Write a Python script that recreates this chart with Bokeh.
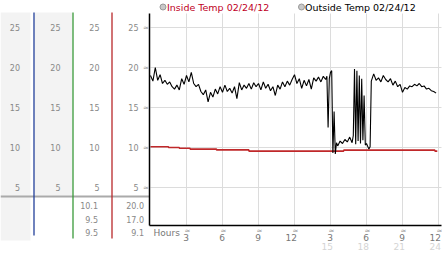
from bokeh.plotting import figure
from bokeh.models import Range1d
from bokeh.core.properties import value
from bokeh.embed import file_html
from bokeh.resources import INLINE

# ---------------- data ----------------
hours_out = [
    0.0, 0.2, 0.4, 0.6, 0.8, 1.0, 1.2, 1.4, 1.6, 1.8, 2.0, 2.2, 2.4, 2.6, 2.8,
    3.0, 3.2, 3.4, 3.6, 3.8, 4.0, 4.2, 4.4, 4.6, 4.8, 5.0, 5.2, 5.4, 5.6, 5.8,
    6.0, 6.2, 6.4, 6.6, 6.8, 7.0, 7.2, 7.4, 7.6, 7.8, 8.0, 8.2, 8.4, 8.6, 8.8,
    9.0, 9.2, 9.4, 9.6, 9.8, 10.0, 10.2, 10.4, 10.6, 10.8, 11.0, 11.2, 11.4,
    11.6, 11.8, 12.0, 12.2, 12.4, 12.6, 12.8, 13.0, 13.2, 13.4, 13.6, 13.8,
    14.0, 14.2, 14.4, 14.6,
    14.7, 14.8, 14.9, 15.0, 15.1, 15.2, 15.3, 15.4, 15.5, 15.6, 15.8, 16.0,
    16.2, 16.4, 16.6, 16.8, 16.9, 17.0, 17.1, 17.2, 17.3, 17.4, 17.5, 17.6,
    17.7, 17.8, 17.9, 18.0, 18.2, 18.3, 18.4,
    18.6, 18.8, 19.0, 19.2, 19.4, 19.6, 19.8, 20.0, 20.2, 20.4, 20.6, 20.8,
    21.0, 21.2, 21.4, 21.6, 21.8, 22.0, 22.2, 22.4, 22.6, 22.8, 23.0, 23.2,
    23.4, 23.6, 23.8,
]
outside = [
    19.0, 18.3, 20.0, 18.4, 19.1, 18.0, 18.4, 17.9, 18.2, 17.6, 17.3, 17.8, 17.2, 18.6, 17.9,
    19.0, 18.2, 19.4, 18.0, 17.6, 17.9, 17.0, 16.6, 17.2, 15.7, 16.9, 16.3, 17.3, 16.7, 17.6,
    16.9, 17.8, 17.0, 17.4, 16.8, 17.6, 16.1, 18.1, 17.2, 17.8, 17.4, 18.0, 17.3, 18.1, 17.6,
    18.0, 17.2, 18.2, 17.4, 17.9, 17.1, 17.6, 16.5, 17.8, 17.3, 18.2, 17.6, 18.3,
    17.8, 18.5, 19.1, 18.0, 18.6, 17.4, 18.4, 17.7, 18.5, 17.3, 18.7, 18.3,
    18.8, 18.2, 18.9, 18.5,
    18.9, 12.5, 18.6, 19.4, 19.6, 9.3, 14.5, 9.2, 10.6, 10.2, 10.8, 10.5,
    11.0, 10.7, 11.3, 10.6, 11.5, 19.8, 10.4, 19.6, 10.8, 19.0, 10.5, 18.6,
    10.9, 16.5, 10.3, 10.5, 9.8, 10.1, 18.3,
    19.2, 18.4, 18.7, 18.2, 19.0, 18.5, 18.2, 18.6, 17.8, 18.3, 17.6, 17.9,
    16.9, 17.5, 17.3, 17.7, 17.6, 17.9, 17.7, 18.0, 17.6, 17.7, 17.3, 17.4,
    17.1, 17.0, 16.8,
]
hours_in = [0.0, 1.5, 2.4, 3.3, 5.5, 8.2, 16.1, 23.7, 23.9]
inside = [10.1, 10.0, 9.9, 9.8, 9.7, 9.55, 9.67, 9.55, 9.55]

y_ticks = [5, 10, 15, 20, 25]
y_labels = ["5", "10", "15", "20", "25"]
x_ticks = [3, 6, 9, 12, 15, 18, 21, 24]
x_labels = ["3", "6", "9", "12", "3", "6", "9", "12"]
x_labels2 = ["", "", "", "", "15", "18", "21", "24"]
stats_inside = ["10.1", "9.5", "9.5"]
stats_outside = ["20.0", "17.0", "9.1"]
legend_names = ["Inside Temp 02/24/12", "Outside Temp 02/24/12"]

# ---------------- layout ----------------
W, H = 442, 253
X_ORIGIN, PX_PER_HOUR = 150, 12.0
Y_ORIGIN, PX_PER_DEG = 227, 8.0
PLOT_TOP, PLOT_BOTTOM, PLOT_RIGHT = 13, 225, 441
FONT = value("DejaVu Sans")

p = figure(
    width=W, height=H,
    x_range=Range1d(-X_ORIGIN / PX_PER_HOUR, (W - X_ORIGIN) / PX_PER_HOUR),
    y_range=Range1d((Y_ORIGIN - H) / PX_PER_DEG, Y_ORIGIN / PX_PER_DEG),
    min_border=0, x_axis_type=None, y_axis_type=None,
    toolbar_location=None, output_backend="svg",
    outline_line_color=None, background_fill_color="white",
)
p.extra_x_ranges = {"px": Range1d(0, W)}
p.extra_y_ranges = {"py": Range1d(H, 0)}
PXY = dict(x_range_name="px", y_range_name="py")

hour_right = (PLOT_RIGHT - X_ORIGIN) / PX_PER_HOUR
deg_top = (Y_ORIGIN - PLOT_TOP) / PX_PER_DEG
deg_bottom = (Y_ORIGIN - PLOT_BOTTOM) / PX_PER_DEG

# left panel backgrounds
p.quad(left=[0, 34], right=[30, 72], top=[12, 12], bottom=[240, 195],
       fill_color="#f3f3f3", line_color=None, **PXY)

# plot grid
p.segment(x0=[0] * len(y_ticks), x1=[hour_right] * len(y_ticks), y0=y_ticks, y1=y_ticks,
          line_color="#dcdcdc", line_width=1)
p.segment(x0=x_ticks, x1=x_ticks, y0=[deg_bottom] * len(x_ticks), y1=[deg_top] * len(x_ticks),
          line_color="#dcdcdc", line_width=1)

# grey separator line in left panel
p.segment(x0=[0], x1=[149], y0=[196], y1=[196], line_color="#aaaaaa", line_width=2, **PXY)

# coloured column lines
p.segment(x0=[33.5, 72.5, 111.5], x1=[33.5, 72.5, 111.5], y0=[12, 12, 12], y1=[235, 238, 238],
          line_color=["#22409a", "#3a9a3a", "#b8282a"], line_width=1.3, **PXY)

# data
p.step(hours_in, inside, mode="after", line_color="#c0282a", line_width=1.6)
p.line(hours_out, outside, line_color="black", line_width=1.1)

# axis lines
p.segment(x0=[149, 149], x1=[149, PLOT_RIGHT], y0=[PLOT_TOP, PLOT_BOTTOM], y1=[PLOT_BOTTOM, PLOT_BOTTOM],
          line_color="black", line_width=1.5, **PXY)

# y tick labels for the four columns
for col_x in [19.5, 60, 99, 138]:
    p.text(x=[col_x] * len(y_ticks), y=y_ticks, text=y_labels, x_range_name="px",
           text_align="right", text_baseline="middle", text_font=FONT,
           text_font_size=value("8px"), text_color="#888888")
p.text(x=[145.5] * len(y_ticks), y=y_ticks, text=["≈"] * len(y_ticks), x_range_name="px",
       text_align="center", text_baseline="middle", text_font=FONT,
       text_font_size=value("7px"), text_color="#999999")

# x ticks
p.text(x=x_ticks, y=[230.5] * len(x_ticks), text=["≈"] * len(x_ticks), y_range_name="py",
       x_offset=1, text_align="center", text_baseline="middle", text_font=FONT,
       text_font_size=value("7px"), text_color="#999999")
p.text(x=x_ticks, y=[236.5] * len(x_ticks), text=x_labels, y_range_name="py",
       x_offset=2.5, text_align="right", text_baseline="middle", text_font=FONT,
       text_font_size=value("9px"), text_color="#777777")
p.text(x=x_ticks, y=[245.5] * len(x_ticks), text=x_labels2, y_range_name="py",
       x_offset=2.5, text_align="right", text_baseline="middle", text_font=FONT,
       text_font_size=value("9px"), text_color="#d4d4d4")
p.text(x=[153], y=[232.5], text=["Hours"], text_align="left", text_baseline="middle",
       text_font=FONT, text_font_size=value("9px"), text_color="#777777", **PXY)

# stats
stat_y = [204.5, 218.5, 232]
p.text(x=[97.5] * 3, y=stat_y, text=stats_inside, text_align="right", text_baseline="middle",
       text_font=FONT, text_font_size=value("8px"), text_color="#888888", **PXY)
p.text(x=[143.5] * 3, y=stat_y, text=stats_outside, text_align="right", text_baseline="middle",
       text_font=FONT, text_font_size=value("8px"), text_color="#888888", **PXY)

# legend
p.scatter(x=[162.5, 301], y=[6.5, 6.5], size=6, fill_color="#c8c8c8", line_color="#999999", **PXY)
p.text(x=[166.5, 304.5], y=[7, 7], text=legend_names, text_align="left", text_baseline="middle",
       text_font=FONT, text_font_size=value("9.5px"), text_color=["#c0001e", "#000000"], **PXY)

open("out.html", "w").write(file_html(p, INLINE))
